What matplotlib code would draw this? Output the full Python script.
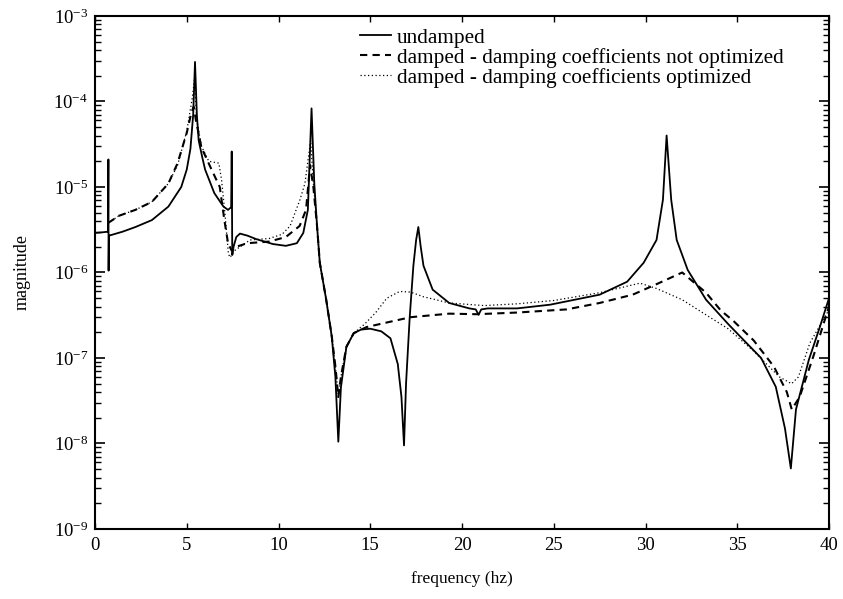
import matplotlib
matplotlib.use("Agg")
import matplotlib.pyplot as plt
from matplotlib.ticker import FixedLocator, NullFormatter, LogFormatterSciNotation

plt.rcParams['font.family'] = 'serif'
plt.rcParams['font.serif'] = ['Liberation Serif', 'DejaVu Serif']
plt.rcParams['mathtext.fontset'] = 'custom'
plt.rcParams['mathtext.rm'] = 'Liberation Serif'
plt.rcParams['mathtext.it'] = 'Liberation Serif:italic'
plt.rcParams['mathtext.bf'] = 'Liberation Serif:bold'

labels = ["undamped",
          "damped - damping coefficients not optimized",
          "damped - damping coefficients optimized"]

# undamped response
f_und = [0.0, 0.4, 0.71, 0.73, 0.74, 0.76, 0.9, 1.5, 2.2, 3.1,
         4.0, 4.7, 5.0, 5.2, 5.35, 5.45, 5.55, 5.65, 5.85, 6.0,
         6.5, 7.0, 7.25, 7.42, 7.45, 7.48, 7.55, 7.7, 7.9, 8.3,
         8.8, 9.7, 10.4, 11.0, 11.35, 11.6, 11.8, 11.95, 12.1, 12.25,
         12.6, 12.9, 13.1, 13.26, 13.4, 13.7, 14.1, 14.5, 15.0, 15.6,
         16.1, 16.5, 16.7, 16.84, 16.95, 17.15, 17.35, 17.5, 17.62, 17.75,
         17.9, 18.4, 19.3, 20.4, 20.75, 20.9, 21.05, 21.4, 23.0, 24.8,
         27.5, 29.0, 29.9, 30.6, 30.95, 31.15, 31.4, 31.7, 32.3, 33.3,
         34.5, 35.5, 36.3, 37.1, 37.6, 37.92, 38.2, 38.9, 39.5, 40.0]
m_und = [2.9e-6, 2.95e-6, 3.0e-6, 2.1e-5, 1.05e-6, 2.7e-6, 2.75e-6, 3.0e-6, 3.4e-6, 4.1e-6,
         5.9e-6, 1.0e-5, 1.6e-5, 2.8e-5, 7e-5, 2.9e-4, 7e-5, 3.5e-5, 2.2e-5, 1.6e-5,
         8.5e-6, 5.9e-6, 5.4e-6, 5.8e-6, 2.6e-5, 1.6e-6, 2.0e-6, 2.6e-6, 2.85e-6, 2.7e-6,
         2.45e-6, 2.15e-6, 2.05e-6, 2.2e-6, 2.9e-6, 5.4e-6, 8.3e-5, 1.1e-5, 3.5e-6, 1.3e-6,
         4.8e-7, 1.8e-7, 6e-8, 1.05e-8, 4.5e-8, 1.35e-7, 1.95e-7, 2.15e-7, 2.2e-7, 2.05e-7,
         1.7e-7, 8.5e-8, 3.5e-8, 9.5e-9, 5e-8, 3.0e-7, 1.2e-6, 2.4e-6, 3.4e-6, 2.0e-6,
         1.2e-6, 6.3e-7, 4.4e-7, 3.8e-7, 3.7e-7, 3.2e-7, 3.7e-7, 3.8e-7, 3.8e-7, 4.2e-7,
         5.5e-7, 7.8e-7, 1.3e-6, 2.4e-6, 7.1e-6, 4.0e-5, 7.1e-6, 2.4e-6, 1.07e-6, 4.8e-7,
         2.5e-7, 1.5e-7, 1.0e-7, 4.6e-8, 1.5e-8, 5.1e-9, 2.5e-8, 9.5e-8, 2.3e-7, 5.0e-7]

# damped, coefficients not optimized
f_dmp = [0.72, 1.3, 2.2, 3.1, 4.0, 4.5, 5.0, 5.25, 5.38, 5.5,
         5.8, 6.35, 6.8, 7.05, 7.25, 7.45, 7.7, 8.3, 9.5, 10.4,
         11.15, 11.5, 11.72, 11.9, 12.1, 12.25, 12.6, 12.9, 13.1, 13.26,
         13.4, 13.7, 14.1, 14.8, 15.9, 17.2, 19.3, 20.8, 23.0, 25.7,
         27.5, 29.3, 30.6, 32.0, 33.3, 34.1, 34.8, 35.9, 37.0, 37.7,
         37.97, 38.4, 39.15, 40.0]
m_dmp = [3.8e-6, 4.6e-6, 5.4e-6, 6.7e-6, 1.1e-5, 1.9e-5, 4.3e-5, 7.4e-5, 8.7e-5, 6.0e-5,
         2.9e-5, 1.6e-5, 1.0e-5, 4.1e-6, 2.2e-6, 1.8e-6, 2.0e-6, 2.2e-6, 2.3e-6, 2.6e-6,
         3.5e-6, 5.4e-6, 1.8e-5, 1.0e-5, 3.5e-6, 1.3e-6, 4.8e-7, 1.8e-7, 8e-8, 3.5e-8,
         6e-8, 1.35e-7, 1.95e-7, 2.3e-7, 2.6e-7, 3.0e-7, 3.3e-7, 3.25e-7, 3.4e-7, 3.7e-7,
         4.4e-7, 5.5e-7, 7.3e-7, 1.0e-6, 5.8e-7, 3.6e-7, 2.7e-7, 1.6e-7, 7.9e-8, 4.0e-8,
         2.5e-8, 3.5e-8, 1.05e-7, 4.0e-7]

# damped, coefficients optimized
f_opt = [0.72, 1.3, 2.2, 3.1, 4.0, 4.5, 5.0, 5.3, 5.42, 5.55,
         5.8, 6.2, 6.75, 6.9, 7.08, 7.27, 7.36, 7.6, 8.45, 9.5,
         10.2, 10.63, 11.17, 11.44, 11.75, 11.9, 12.1, 12.25, 12.6, 12.9,
         13.1, 13.26, 13.4, 13.7, 14.1, 14.7, 15.3, 15.9, 16.6, 17.2,
         17.9, 19.3, 21.2, 23.0, 25.0, 27.5, 29.7, 30.6, 32.0, 33.5,
         34.5, 35.9, 37.3, 37.96, 38.33, 38.96, 39.87, 40.0]
m_opt = [3.8e-6, 4.6e-6, 5.4e-6, 6.7e-6, 1.1e-5, 1.8e-5, 4.5e-5, 1.1e-4, 1.8e-4, 6e-5,
         3.0e-5, 2.0e-5, 1.9e-5, 1.2e-5, 4.9e-6, 1.66e-6, 1.5e-6, 1.8e-6, 2.4e-6, 2.5e-6,
         2.8e-6, 3.5e-6, 7.1e-6, 1.1e-5, 3.5e-5, 1.1e-5, 3.5e-6, 1.3e-6, 4.8e-7, 1.8e-7,
         8e-8, 3.5e-8, 6e-8, 1.35e-7, 1.95e-7, 2.5e-7, 3.4e-7, 5.0e-7, 6.0e-7, 5.9e-7,
         5.2e-7, 4.4e-7, 4.1e-7, 4.3e-7, 4.7e-7, 5.8e-7, 7.5e-7, 6.5e-7, 4.8e-7, 3.0e-7,
         2.2e-7, 1.2e-7, 6.0e-8, 5.0e-8, 6.0e-8, 1.5e-7, 3.3e-7, 3.6e-7]

x_ticks = [0, 5, 10, 15, 20, 25, 30, 35, 40]
y_decades = [1e-9, 1e-8, 1e-7, 1e-6, 1e-5, 1e-4, 1e-3]
y_minor = [k * d for d in y_decades[:-1] for k in range(2, 10)]

fig = plt.figure(figsize=(8.43, 5.99), dpi=100)
ax = fig.add_axes([0.1127, 0.1169, 0.8707, 0.8564])

ax.plot(f_und, m_und, color='black', lw=1.3, label=labels[0])
ax.plot(f_dmp, m_dmp, color='black', lw=1.5, ls=(0, (3.5, 2.5)), label=labels[1])
ax.plot(f_opt, m_opt, color='black', lw=0.9, ls=(0, (1, 2)), label=labels[2])

ax.set_yscale('log')
ax.set_xlim(0, 40)
ax.set_ylim(1e-9, 1e-3)
ax.xaxis.set_major_locator(FixedLocator(x_ticks))
ax.yaxis.set_major_locator(FixedLocator(y_decades))
ax.yaxis.set_major_formatter(LogFormatterSciNotation())
ax.yaxis.set_minor_locator(FixedLocator(y_minor))
ax.yaxis.set_minor_formatter(NullFormatter())

ax.tick_params(axis='both', which='both', direction='in', top=True, right=True,
               labelsize=13.5, color='black')
ax.tick_params(axis='y', which='major', length=7, width=1.2, pad=5)
ax.tick_params(axis='y', which='minor', length=4, width=1.0)
ax.tick_params(axis='x', which='major', length=4, width=1.0, pad=6)
for s in ax.spines.values():
    s.set_linewidth(1.5)

ax.set_xlabel("frequency (hz)", fontsize=12.5, labelpad=12)
ax.set_ylabel("magnitude", fontsize=13, labelpad=16)

ax.legend(loc='upper left', bbox_to_anchor=(0.355, 0.985), frameon=False,
          fontsize=15.3, handlelength=1.45, handletextpad=0.3, labelspacing=0.0,
          borderpad=0.2, borderaxespad=0.0)

fig.savefig("out.png", dpi=100)
